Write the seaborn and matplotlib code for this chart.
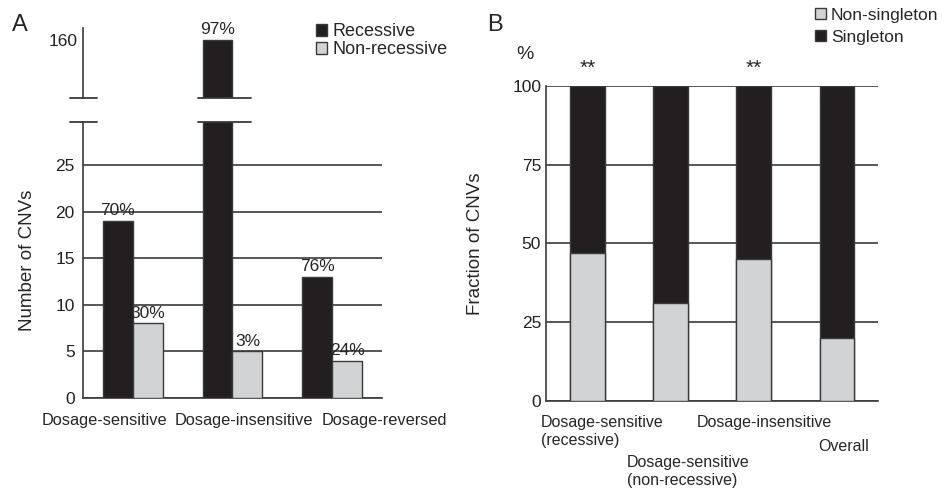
import matplotlib
matplotlib.use("Agg")
import matplotlib.pyplot as plt
import matplotlib.transforms as mtransforms
from matplotlib.patches import Patch
import pandas as pd
import seaborn as sns

# panel A data
a_groups = ["Dosage-sensitive", "Dosage-insensitive", "Dosage-reversed"]
a_recessive = [19, 160, 13]
a_nonrecessive = [8, 5, 4]
a_rec_pct = ["70%", "97%", "76%"]
a_non_pct = ["30%", "3%", "24%"]

# panel B data (percent)
b_groups = ["Dosage-sensitive\n(recessive)", "Dosage-sensitive\n(non-recessive)",
            "Dosage-insensitive", "Overall"]
b_nonsingleton = [47, 31, 45, 20]
b_singleton = [53, 69, 55, 80]

BLACK = "#231f20"
GRAY = "#d1d3d4"
EDGE = "#3a3a3a"
LINE = "#3a3a3a"

sns.set_style("white")
plt.rcParams["font.family"] = ["Liberation Sans", "DejaVu Sans"]
plt.rcParams["axes.linewidth"] = 1.2

fig = plt.figure(figsize=(9.43, 4.97), dpi=100)

df_a = pd.DataFrame({
    "group": a_groups * 2,
    "count": a_recessive + a_nonrecessive,
    "type": ["Recessive"] * 3 + ["Non-recessive"] * 3,
})
pal_a = {"Recessive": BLACK, "Non-recessive": GRAY}

ax_lo = fig.add_axes([0.0880, 0.1992, 0.3171, 0.5553])
ax_hi = fig.add_axes([0.0880, 0.8028, 0.3171, 0.1408])

for ax in (ax_lo, ax_hi):
    sns.barplot(data=df_a, x="group", y="count", hue="type", palette=pal_a,
                width=0.6, edgecolor=EDGE, linewidth=1, ax=ax, legend=False,
                saturation=1, zorder=3)
    ax.set_xlim(-0.5, 2.5)
    ax.set_xlabel("")
    ax.set_ylabel("")
    for s in ("top", "right"):
        ax.spines[s].set_visible(False)
    ax.spines["left"].set_color(LINE)

ax_lo.set_ylim(0, 29.6)
ax_lo.set_yticks([0, 5, 10, 15, 20, 25])
ax_lo.tick_params(axis="y", labelsize=12.5, length=5, direction="inout", colors="#222222")
ax_lo.yaxis.grid(True, color=LINE, linewidth=1.2)
ax_lo.set_axisbelow(True)
ax_lo.spines["bottom"].set_color(LINE)
ax_lo.set_xticks([0, 1, 2])
ax_lo.set_xticklabels([""] * 3)
ax_lo.tick_params(axis="x", length=0)
ax_lo.set_xticks([-0.5, 0.5, 1.5, 2.5], minor=True)
ax_lo.tick_params(axis="x", which="minor", length=8, direction="inout", color=LINE, width=1.2)
ax_lo.set_ylabel("Number of CNVs", fontsize=13.5, labelpad=14)

blend_a = mtransforms.blended_transform_factory(ax_lo.transData, ax_lo.transAxes)
a_label_x = [-0.28, 1.11, 2.52]
for lab, xp in zip(a_groups, a_label_x):
    ax_lo.text(xp, -0.055, lab, transform=blend_a, ha="center", va="top", fontsize=11.8)

ax_hi.set_ylim(153.8, 161.3)
ax_hi.set_yticks([160])
ax_hi.tick_params(axis="y", labelsize=12.5, length=5, direction="in", colors="#222222")
ax_hi.spines["bottom"].set_visible(False)
ax_hi.set_xticks([])

# percent labels
bars_rec_lo, bars_non_lo = ax_lo.containers[0], ax_lo.containers[1]
ax_lo.bar_label(bars_rec_lo, labels=[a_rec_pct[0], "", a_rec_pct[2]], fontsize=12.5, padding=2)
ax_lo.bar_label(bars_non_lo, labels=a_non_pct, fontsize=12.5, padding=2)
ax_hi.bar_label(ax_hi.containers[0], labels=["", a_rec_pct[1], ""], fontsize=12.5, padding=2)

# break marks
trans = fig.transFigure
for yb in (98, 122):
    yf = 1 - yb / 497
    for x0, x1 in ((70, 97), (198, 251)):
        fig.add_artist(plt.Line2D([x0 / 943, x1 / 943], [yf, yf], color=LINE,
                                  linewidth=1.3, transform=trans))

ax_hi.legend(handles=[Patch(facecolor=BLACK, edgecolor=EDGE, label="Recessive"),
                      Patch(facecolor=GRAY, edgecolor=EDGE, label="Non-recessive")],
             loc="upper left", bbox_to_anchor=(0.755, 1.17), frameon=False, fontsize=13,
             handlelength=0.6, handleheight=0.6, handletextpad=0.3, labelspacing=0.05,
             borderaxespad=0)

fig.text(12 / 943, 1 - 25 / 497, "A", fontsize=17, va="center", ha="left")

# panel B
ax_b = fig.add_axes([0.5790, 0.1932, 0.3521, 0.6338])
b_total = [n + s for n, s in zip(b_nonsingleton, b_singleton)]
df_b = pd.DataFrame({"group": b_groups, "total": b_total, "non": b_nonsingleton})
sns.barplot(data=df_b, x="group", y="total", color=BLACK, saturation=1, width=0.41,
            edgecolor=EDGE, linewidth=1, ax=ax_b, zorder=3)
sns.barplot(data=df_b, x="group", y="non", color=GRAY, saturation=1, width=0.41,
            edgecolor=EDGE, linewidth=1, ax=ax_b, zorder=4)
ax_b.set_xlim(-0.5, 3.5)
ax_b.set_ylim(0, 100)
ax_b.set_yticks([0, 25, 50, 75, 100])
ax_b.yaxis.grid(True, color=LINE, linewidth=1.2)
ax_b.set_axisbelow(True)
for s in ("top", "right"):
    ax_b.spines[s].set_visible(False)
ax_b.spines["left"].set_color(LINE)
ax_b.spines["bottom"].set_color(LINE)
ax_b.tick_params(axis="y", labelsize=12.5, length=4, direction="in", colors="#222222")
ax_b.set_xlabel("")
ax_b.set_ylabel("Fraction of CNVs", fontsize=13.5, labelpad=20)
ax_b.set_xticks([0, 1, 2, 3])
ax_b.set_xticklabels([""] * 4)
ax_b.tick_params(axis="x", length=0)
ax_b.set_xticks([-0.5, 0.5, 1.5, 2.5, 3.5], minor=True)
ax_b.tick_params(axis="x", which="minor", length=6, direction="in", color=LINE, width=1.2)

blend = mtransforms.blended_transform_factory(ax_b.transData, ax_b.transAxes)
b_label_pos = [(-0.56, -0.045), (0.476, -0.17), (1.32, -0.045), (2.78, -0.12)]
for lab, (xp, yp) in zip(b_groups, b_label_pos):
    ax_b.text(xp, yp, lab, transform=blend, ha="left", va="top", fontsize=11.5,
              linespacing=1.25)

for i in (0, 2):
    ax_b.text(i, 105.5, "**", ha="center", va="center", fontsize=15, clip_on=False)
ax_b.text(-0.063, 1.10, "%", transform=ax_b.transAxes, ha="center", va="center", fontsize=14)

ax_b.legend(handles=[Patch(facecolor=GRAY, edgecolor=EDGE, label="Non-singleton"),
                     Patch(facecolor=BLACK, edgecolor=EDGE, label="Singleton")],
            loc="upper left", bbox_to_anchor=(0.79, 1.27), frameon=False, fontsize=12.5,
            handlelength=0.6, handleheight=0.6, handletextpad=0.3, labelspacing=0.4,
            borderaxespad=0)

fig.text(487 / 943, 1 - 25 / 497, "B", fontsize=17, va="center", ha="left")

fig.savefig("out.png", dpi=100)
